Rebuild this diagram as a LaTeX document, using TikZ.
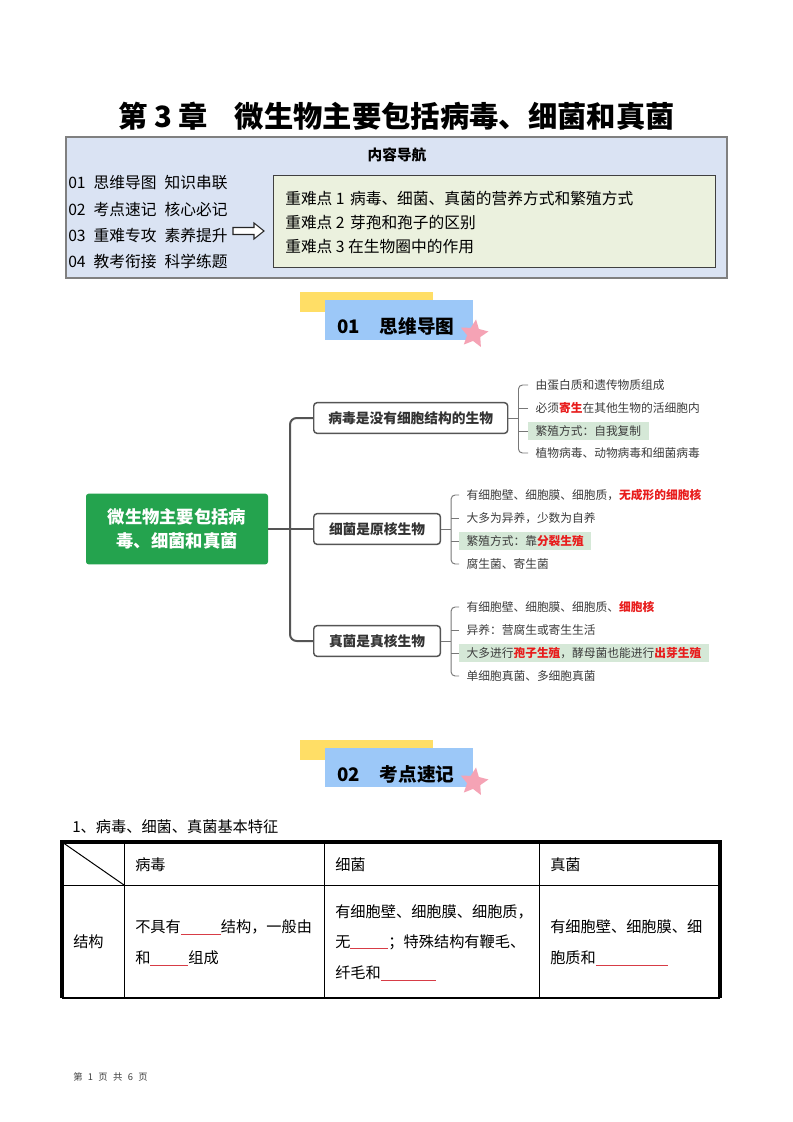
\documentclass[tikz,border=0pt]{standalone}
\usepackage{fontspec}
\setmainfont{Noto Sans CJK SC}
\usetikzlibrary{shapes.geometric}
\definecolor{navblue}{RGB}{218,227,243}
\definecolor{navgreen}{RGB}{235,241,222}
\definecolor{bannery}{RGB}{255,222,102}
\definecolor{bannerb}{RGB}{156,200,248}
\definecolor{starpink}{RGB}{245,163,181}
\definecolor{rootgreen}{RGB}{36,163,78}
\definecolor{boxgray}{RGB}{85,85,85}
\definecolor{leafgray}{RGB}{60,60,60}
\definecolor{hlgreen}{RGB}{213,232,215}
\definecolor{keyred}{RGB}{232,28,28}
\definecolor{blankred}{RGB}{215,60,70}
\newcommand{\keyw}[1]{\textcolor{keyred}{\bfseries #1}}
\newcommand{\blank}[1]{{\color{blankred}\rule[-1.5pt]{#1}{0.6pt}}}
\newcommand{\leaffont}{\fontsize{8.8pt}{10pt}\selectfont}
\newcommand{\navfont}{\fontsize{11.8pt}{13pt}\selectfont}
\newcommand{\tabfont}{\fontsize{11.4pt}{13pt}\selectfont}

\begin{document}
\begin{tikzpicture}[x=0.75pt, y=-0.75pt,
  navtext/.style={anchor=west, inner sep=0pt, font=\navfont},
  tabtext/.style={anchor=west, inner sep=0pt, font=\tabfont},
  leaf/.style={anchor=west, inner xsep=5.5pt, inner ysep=0pt, minimum height=13.5pt, font=\leaffont, text=leafgray},
  hlleaf/.style={leaf, fill=hlgreen},
  branchbox/.style={draw=boxgray, line width=1.1pt, rounded corners=2.5pt, fill=white, anchor=west,
    minimum height=23pt, font=\fontsize{10.3pt}{12pt}\selectfont\bfseries, text=black!80},
  trunk/.style={draw=boxgray, line width=1.5pt, rounded corners=5pt},
  brk/.style={draw=boxgray!80, line width=0.7pt, rounded corners=3pt},
  bantext/.style={anchor=west, inner sep=0pt, font=\fontsize{14pt}{16pt}\selectfont\bfseries},
  pinkstar/.style={star, star points=5, star point ratio=2.1, fill=starpink, minimum size=22pt, inner sep=0pt, rotate=-8},
  thin/.style={line width=0.75pt},
  thick/.style={line width=2.3pt}]
\useasboundingbox (0,0) rectangle (793,1122);
\fill[white] (0,0) rectangle (793,1122);

\node[anchor=west, inner sep=0pt, font=\fontsize{22pt}{24pt}\selectfont\bfseries] (title) at (118,116)
  {第 3 章\hspace{20pt}微生物主要包括病毒、细菌和真菌};

\filldraw[fill=navblue, draw=black!50, line width=0.8pt] (66,137) rectangle (727,278);
\node[font=\fontsize{11pt}{13pt}\selectfont\bfseries] (navhead) at (397,155) {内容导航};
\node[navtext] (nav1) at (68,183) {01\hspace{6pt}思维导图\hspace{6pt}知识串联};
\node[navtext] (nav2) at (68,209) {02\hspace{6pt}考点速记\hspace{6pt}核心必记};
\node[navtext] (nav3) at (68,235) {03\hspace{6pt}重难专攻\hspace{6pt}素养提升};
\node[navtext] (nav4) at (68,261) {04\hspace{6pt}教考衔接\hspace{6pt}科学练题};
\node[draw=black!75, line width=0.8pt, fill=navgreen, minimum width=331.5pt, minimum height=69pt,
  anchor=north west, inner sep=0pt] (keybox) at (273,175) {};
\node[navtext] (key1) at (285,198) {重难点 1\hspace{4pt}病毒、细菌、真菌的营养方式和繁殖方式};
\node[navtext] (key2) at (285,223) {重难点 2\hspace{4pt}芽孢和孢子的区别};
\node[navtext] (key3) at (285,247) {重难点 3 在生物圈中的作用};
\coordinate (arrs) at (233,231);
\filldraw[fill=white, draw=black!85, line width=0.8pt, line join=miter]
  (arrs) ++(0,-3.5) -- ++(21,0) -- ++(0,-4.5) -- ++(10,8) -- ++(-10,8) -- ++(0,-4.5) -- ++(-21,0) -- cycle;

\fill[bannery] (300,292) rectangle (433,312);
\fill[bannerb] (325,300) rectangle (473,340);
\node[bantext] (ban1) at (337,326) {01\hspace{15pt}思维导图};
\node[pinkstar] (star1) at (474,334) {};

\node[fill=rootgreen, rounded corners=2pt, minimum width=136.5pt, minimum height=53pt, align=center,
  text=white, font=\fontsize{13pt}{18pt}\selectfont\bfseries] (root) at (177,529) {微生物主要包括病\\毒、细菌和真菌};
\node[branchbox, minimum width=145.5pt] (virus) at (313,418) {病毒是没有细胞结构的生物};
\node[branchbox, minimum width=95pt] (bact) at (313,529) {细菌是原核生物};
\node[branchbox, minimum width=95pt] (fungi) at (313,641) {真菌是真核生物};
\coordinate (tx) at (290,529);
\draw[trunk] (root.east) -- (bact.west);
\draw[trunk] (virus.west) -- (virus.west -| tx) -- (fungi.west -| tx) -- (fungi.west);

\node[leaf] (v1) at (528,385) {由蛋白质和遗传物质组成};
\node[leaf] (v2) at (528,408) {必须\keyw{寄生}在其他生物的活细胞内};
\node[hlleaf] (v3) at (528,431) {繁殖方式：自我复制};
\node[leaf] (v4) at (528,453) {植物病毒、动物病毒和细菌病毒};

\node[leaf] (b1) at (459,495) {有细胞壁、细胞膜、细胞质，\keyw{无成形的细胞核}};
\node[leaf] (b2) at (459,518) {大多为异养，少数为自养};
\node[hlleaf] (b3) at (459,541) {繁殖方式：靠\keyw{分裂生殖}};
\node[leaf] (b4) at (459,564) {腐生菌、寄生菌};

\node[leaf] (f1) at (459,607) {有细胞壁、细胞膜、细胞质、\keyw{细胞核}};
\node[leaf] (f2) at (459,630) {异养：营腐生或寄生生活};
\node[hlleaf] (f3) at (459,653) {大多进行\keyw{孢子生殖}，酵母菌也能进行\keyw{出芽生殖}};
\node[leaf] (f4) at (459,676) {单细胞真菌、多细胞真菌};

\foreach \br/\lf in {virus/v, bact/b, fungi/f}{
  \coordinate (\lf br) at ([xshift=7.5pt]\br.east);
  \draw[brk] (\br.east) -- (\lf br);
  \draw[brk] (\lf 1.west) -- (\lf 1.west -| \lf br) -- (\lf 4.west -| \lf br) -- (\lf 4.west);
  \foreach \i in {2,3}
    \draw[brk] (\lf\i.west) -- (\lf\i.west -| \lf br);
}

\fill[bannery] (300,740) rectangle (433,760);
\fill[bannerb] (325,748) rectangle (473,787);
\node[bantext] (ban2) at (337,774) {02\hspace{15pt}考点速记};
\node[pinkstar] (star2) at (474,782) {};

\node[tabtext] (tabtitle) at (72,827) {1、病毒、细菌、真菌基本特征};

\draw[thin] (62,885) -- (720,885);
\foreach \cx in {124,324,539}
  \draw[thin] (\cx,842) -- (\cx,998);
\draw[thin] (62,842) -- (124,885);
\draw[line width=1.5pt] (62,998) -- (720,998);
\draw[thick] (62,998) -- (62,842) -- (720,842) -- (720,998);

\node[tabtext] (h1) at (135,865) {病毒};
\node[tabtext] (h2) at (335,865) {细菌};
\node[tabtext] (h3) at (550,865) {真菌};
\node[tabtext] (r1) at (73,942) {结构};
\node[tabtext] (c11) at (135,927) {不具有\blank{30pt}结构，一般由};
\node[tabtext] (c12) at (135,958) {和\blank{28.5pt}组成};
\node[tabtext] (c21) at (335,912) {有细胞壁、细胞膜、细胞质，};
\node[tabtext] (c22) at (335,942) {无\blank{28.5pt}；特殊结构有鞭毛、};
\node[tabtext] (c23) at (335,973) {纤毛和\blank{41pt}};
\node[tabtext] (c31) at (550,927) {有细胞壁、细胞膜、细};
\node[tabtext] (c32) at (550,958) {胞质和\blank{54pt}};

\node[anchor=west, inner sep=0pt, text=black!75, font=\fontsize{7pt}{8pt}\selectfont] (foot) at (73,1077)
  {第\hspace{4pt}1\hspace{4pt}页\hspace{4pt}共\hspace{4pt}6\hspace{4pt}页};
\end{tikzpicture}
\end{document}
